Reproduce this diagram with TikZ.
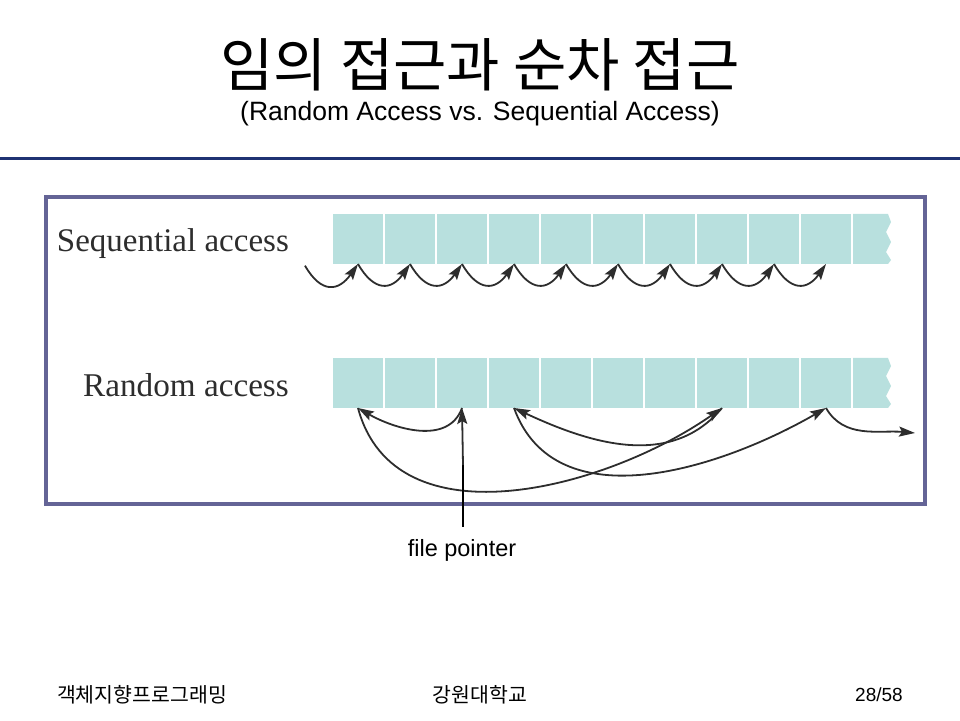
\documentclass[tikz,border=0pt]{standalone}
\usepackage{fontspec}
\setmainfont{Liberation Sans}
\newfontfamily\kofont{Noto Sans CJK KR}
\newfontfamily\figfont{Liberation Serif}
\usepackage{xcolor}
\definecolor{navy}{RGB}{31,50,115}
\definecolor{slate}{RGB}{100,100,150}
\definecolor{aqua}{RGB}{184,224,222}
\definecolor{coal}{RGB}{45,45,45}
\usepackage{tikz}
\usetikzlibrary{arrows.meta,positioning,calc}
\tikzset{
  %% storage cells of the file
  slot/.style={fill=aqua, minimum width=50pt, minimum height=50pt,
               inner sep=0pt, outer sep=0pt},
  %% head of a move
  >={Stealth[length=16pt, width=10pt, inset=3pt]},
  %% moves of the file pointer
  hop/.style={draw=coal, fill=none, line width=1.8pt, ->},
  figlabel/.style={text=coal, anchor=base east, inner sep=0pt},
}
%% torn last cell after node #1
\newcommand\tornend[1]{%
  \fill[aqua] ($(#1.north east)+(2,0)$) -- ++(35,0) -- ++(3,-8) -- ++(-5,-10)
    -- ++(5,-10) -- ++(-5,-10) -- ++(5,-8) -- ++(-3,-4)
    -- ($(#1.south east)+(2,0)$) -- cycle;}

\begin{document}
\begin{tikzpicture}[x=1pt,y=1pt]
\useasboundingbox (0,0) rectangle (960,720);
%% heading
\node[font=\kofont\fontsize{58}{66}\selectfont] (title) at (480,655) {임의 접근과 순차 접근};
\node[font=\fontsize{26.5}{30}\selectfont] (subtitle) at (480,606) {(Random Access vs. Sequential Access)};
\draw[navy, line width=3pt] (0,561) -- (960,561);
%% figure panel
\draw[slate, line width=4pt] (46,523) rectangle (925,216);
\node[figlabel, font=\figfont\fontsize{33}{36}\selectfont] (seqlabel) at (289,468) {Sequential access};
\node[figlabel, font=\figfont\fontsize{33.2}{36}\selectfont] (randlabel) at (289,323) {Random access};
\node[slot] (s1) at (358,481) {};
\node[slot] (r1) at (358,337) {};
\foreach \i [remember=\i as \j (initially 1)] in {2,...,10}{
  \node[slot, right=2pt of s\j] (s\i) {};
  \node[slot, right=2pt of r\j] (r\i) {};
}
\tornend{s10}
\tornend{r10}
%% sequential access: one cell after the other
\node[inner sep=0pt] (s0) at (305,455) {};
\foreach \i [remember=\i as \j (initially 0)] in {1,...,10}
  \draw[hop] (s\j.south) to[out=-60,in=-125,looseness=1.6] (s\i.south);
%% random access: jumps
\draw[hop] (r3.south) to[out=-110,in=-30] (r1.south);
\draw[hop] (r1.south) to[out=-75,in=-145] (r8.south);
\draw[hop] (r8.south) to[out=-130,in=-25] (r4.south);
\draw[hop] (r4.south) to[out=-70,in=-150] (r10.south);
\coordinate (exit) at (915,287);
\draw[hop] (r10.south) to[out=-60,in=175] (exit);
%% file pointer
\node[font=\fontsize{23.5}{26}\selectfont] (fp) at (462,170) {file pointer};
\coordinate (fpbase) at (463,193);
\coordinate (fptop) at (463,255);
\draw[line width=2pt] (fpbase) -- (fptop);
\draw[hop] (fptop) -- (r3.south);
%% footer
\node[font=\kofont\fontsize{20.5}{24}\selectfont] (course) at (142,25) {객체지향프로그래밍};
\node[font=\kofont\fontsize{20.5}{24}\selectfont] (school) at (480,25) {강원대학교};
\node[font=\fontsize{19}{22}\selectfont] (page) at (879,25) {28/58};
\end{tikzpicture}
\end{document}
